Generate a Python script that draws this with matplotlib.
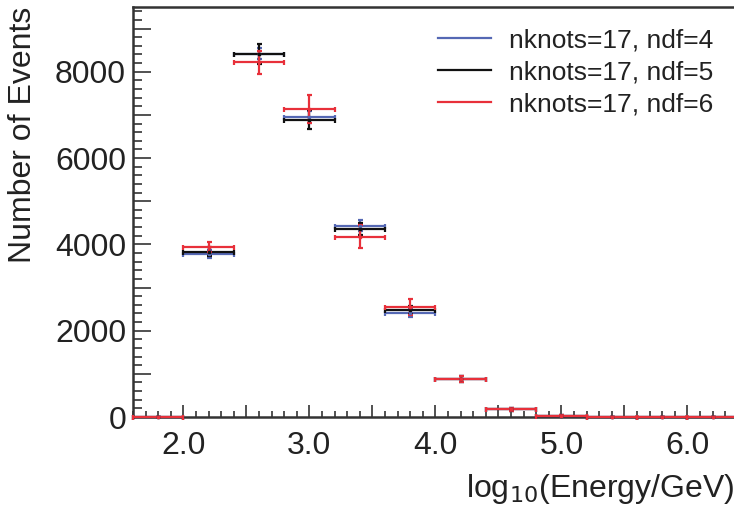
import matplotlib

matplotlib.use("Agg")
import matplotlib.pyplot as plt
import numpy as np
from matplotlib.ticker import FuncFormatter, MultipleLocator

plt.rcParams["font.family"] = ["Liberation Sans", "DejaVu Sans"]

# bin edges in log10(E/GeV), 0.4 wide
bin_lo = [1.6, 2.0, 2.4, 2.8, 3.2, 3.6, 4.0, 4.4, 4.8, 5.2, 5.6, 6.0]
bin_hi = [2.0, 2.4, 2.8, 3.2, 3.6, 4.0, 4.4, 4.8, 5.2, 5.6, 6.0, 6.4]

labels = ["nknots=17, ndf=4", "nknots=17, ndf=5", "nknots=17, ndf=6"]
colors = ["#5568b4", "#111111", "#e8303a"]

counts_ndf4 = [0, 3780, 8420, 6950, 4435, 2410, 885, 185, 30, 6, 3, 0]
counts_ndf5 = [0, 3835, 8410, 6890, 4365, 2478, 885, 185, 30, 6, 3, 0]
counts_ndf6 = [0, 3940, 8220, 7135, 4180, 2545, 885, 185, 30, 6, 3, 0]

err_ndf4 = [0, 95, 135, 130, 135, 95, 70, 35, 10, 3, 2, 0]
err_ndf5 = [0, 100, 225, 215, 140, 100, 70, 35, 10, 3, 2, 0]
err_ndf6 = [0, 115, 270, 320, 275, 185, 75, 35, 10, 3, 2, 0]

series = [counts_ndf4, counts_ndf5, counts_ndf6]
errors = [err_ndf4, err_ndf5, err_ndf6]

lo = np.array(bin_lo)
hi = np.array(bin_hi)
centers = (lo + hi) / 2
half_w = (hi - lo) / 2

fig = plt.figure(figsize=(7.34, 5.09), dpi=100)
ax = fig.add_axes([0.1812, 0.1807, 0.8188, 0.8055])

for vals, errs, col, lab in zip(series, errors, colors, labels):
    ax.errorbar(
        centers,
        vals,
        xerr=half_w,
        yerr=errs,
        fmt="s",
        ms=2,
        color=col,
        ecolor=col,
        elinewidth=1.6,
        capsize=1.8,
        capthick=1.6,
        label=lab,
        zorder=3,
        clip_on=False,
    )

ax.set_xlim(1.6, 6.37)
ax.set_ylim(0, 9500)

ax.xaxis.set_major_locator(MultipleLocator(0.5))
ax.xaxis.set_minor_locator(MultipleLocator(0.1))
ax.xaxis.set_major_formatter(FuncFormatter(lambda v, p: f"{v:.1f}" if abs(v - round(v)) < 1e-6 else ""))
ax.yaxis.set_major_locator(MultipleLocator(1000))
ax.yaxis.set_minor_locator(MultipleLocator(200))
ax.yaxis.set_major_formatter(FuncFormatter(lambda v, p: f"{v:.0f}" if round(v) % 2000 == 0 else ""))

ax.tick_params(axis="both", which="both", direction="in", colors="#333333", labelcolor="#222222", labelsize=23)
ax.tick_params(axis="y", which="major", length=13, width=1.2, pad=5)
ax.tick_params(axis="y", which="minor", length=6.5, width=1.2)
ax.tick_params(axis="x", which="major", length=9, width=1.2, pad=10)
ax.tick_params(axis="x", which="minor", length=4.5, width=1.2)

for side in ["left", "top", "bottom"]:
    ax.spines[side].set_linewidth(1.8)
    ax.spines[side].set_color("#333333")
ax.spines["right"].set_visible(False)

ax.set_ylabel("Number of Events", loc="top", fontsize=23, color="#222222", labelpad=12)
ax.set_xlabel("log$_{10}$(Energy/GeV)", loc="right", fontsize=23, color="#222222", labelpad=8)

handles = [plt.Line2D([], [], color=c, lw=1.6) for c in colors]
ax.legend(
    handles,
    labels,
    loc="upper right",
    bbox_to_anchor=(1.005, 1.005),
    frameon=False,
    fontsize=19,
    handlelength=2.0,
    handletextpad=0.7,
    labelspacing=0.3,
    labelcolor="#222222",
)

fig.savefig("out.png", dpi=100)
